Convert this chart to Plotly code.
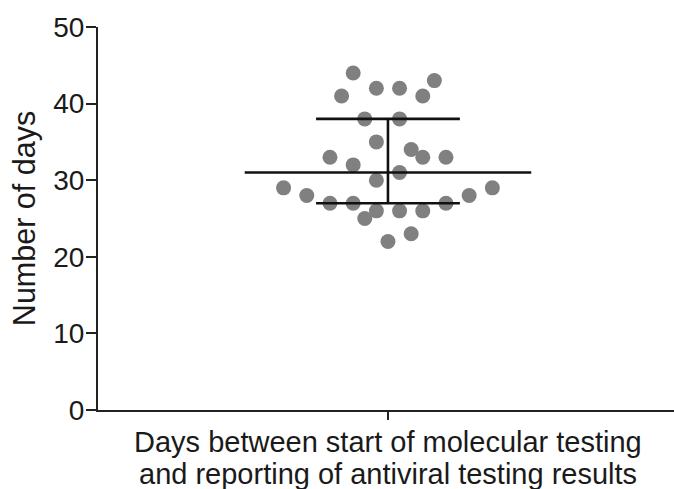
import numpy as np
import plotly.graph_objects as go

# Days between start of molecular testing and reporting of antiviral results
days = [44, 42, 42, 43, 41, 41, 38, 38, 35, 34, 33, 33, 33, 32, 31,
        30, 29, 29, 28, 28, 27, 27, 27, 26, 26, 26, 25, 23, 22]
# horizontal swarm offsets (in point-spacing units) so markers do not overlap
swarm_offset = [-3, -1, 1, 4, -4, 3, -2, 1, -1, 2, -5, 3, 5, -3, 1,
                -1, -9, 9, -7, 7, -5, -3, 5, -1, 1, 3, -2, 2, 0]

y_ticks = [0, 10, 20, 30, 40, 50]
x_title_lines = ["Days between start of molecular testing",
                 "and reporting of antiviral testing results"]

arr = np.array(days, dtype=float)
median = float(np.median(arr))
q1, q3 = (float(v) for v in np.percentile(arr, [25, 75]))

MEDIAN_HALF = 12.35
CAP_HALF = 6.2
LINE = dict(color="#111111", width=2.6)
FONT = "Liberation Sans, Arial, sans-serif"

fig = go.Figure()

fig.add_trace(go.Scatter(
    x=swarm_offset, y=days, mode="markers",
    marker=dict(size=15, color="#808080", line=dict(width=0)),
    hoverinfo="y", showlegend=False,
))

# median line
fig.add_trace(go.Scatter(x=[-MEDIAN_HALF, MEDIAN_HALF], y=[median, median],
                         mode="lines", line=LINE, showlegend=False, hoverinfo="skip"))
# interquartile range whisker with caps
fig.add_trace(go.Scatter(
    x=[-CAP_HALF, CAP_HALF, None, 0, 0, None, -CAP_HALF, CAP_HALF],
    y=[q3, q3, None, q3, q1, None, q1, q1],
    mode="lines", line=LINE, showlegend=False, hoverinfo="skip"))

fig.update_layout(
    width=674, height=489,
    margin=dict(l=98, r=0, t=27, b=79),
    paper_bgcolor="white", plot_bgcolor="white",
    font=dict(family=FONT, size=28, color="#1a1a1a"),
    xaxis=dict(
        range=[-25.0, 24.66], showgrid=False, zeroline=False,
        showline=True, linecolor="#222222", linewidth=2,
        tickmode="array", tickvals=[0], ticktext=[""],
        ticks="outside", ticklen=8, tickwidth=2, tickcolor="#222222",
        fixedrange=True,
    ),
    yaxis=dict(
        range=[0, 50], showgrid=False, zeroline=False,
        showline=True, linecolor="#222222", linewidth=2,
        tickmode="array", tickvals=y_ticks,
        ticks="outside", ticklen=10, tickwidth=2, tickcolor="#222222",
        ticklabelstandoff=-4,
        tickfont=dict(size=28, family=FONT, color="#1a1a1a"),
        title=dict(text="Number of days", font=dict(size=30.5, family=FONT, color="#1a1a1a"),
                   standoff=9),
        fixedrange=True,
    ),
    annotations=[
        dict(text=x_title_lines[0], xref="paper", yref="paper",
             x=0.5035, y=0, yshift=-32, xanchor="center", yanchor="middle",
             showarrow=False, font=dict(size=29, family=FONT, color="#1a1a1a")),
        dict(text=x_title_lines[1], xref="paper", yref="paper",
             x=0.5035, y=0, yshift=-64, xanchor="center", yanchor="middle",
             showarrow=False, font=dict(size=29, family=FONT, color="#1a1a1a")),
    ],
)

fig.write_html("out.html")
